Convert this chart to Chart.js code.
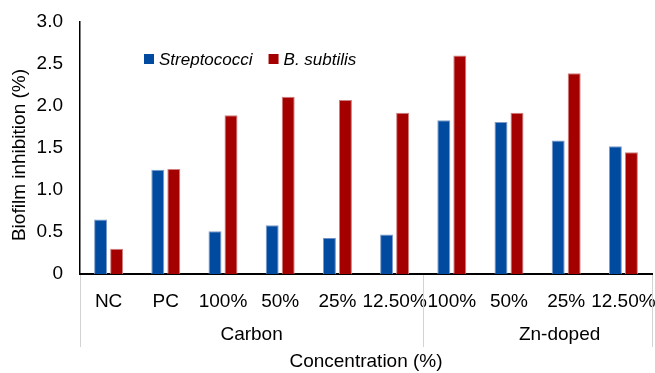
<!DOCTYPE html>
<html>
<head>
<meta charset="utf-8">
<script src="https://cdn.jsdelivr.net/npm/chart.js@4"></script>
<style>
  html, body { margin: 0; padding: 0; background: #fff; }
  #wrap { width: 655px; height: 373px; position: relative; }
</style>
</head>
<body>
<div id="wrap"><canvas id="chart"></canvas></div>
<script>
// Biofilm inhibition by concentration, two strains, grouped by material.

var categories = ["NC", "PC", "100%", "50%", "25%", "12.50%", "100%", "50%", "25%", "12.50%"];
var groupNames = ["Carbon", "Zn-doped"];
var groupSizes = [6, 4]; // how many categories each group spans

var streptococci = [0.65, 1.24, 0.51, 0.58, 0.43, 0.47, 1.83, 1.81, 1.59, 1.52];
var bSubtilis = [0.30, 1.25, 1.89, 2.11, 2.07, 1.92, 2.60, 1.92, 2.39, 1.45];

var yMin = 0;
var yMax = 3;
var yStep = 0.5;

var FONT = "'Liberation Sans', Arial, Helvetica, sans-serif";

// ---------- group labels + separators under the x axis ----------
var groupAxisPlugin = {
  id: "groupAxis",
  afterDraw: function (chart, args, opts) {
    var ctx = chart.ctx;
    var x = chart.scales.x;
    var area = chart.chartArea;
    var n = categories.length;

    function edge(i) {
      if (i <= 0) return x.left;
      if (i >= n) return x.right;
      return (x.getPixelForValue(i - 1) + x.getPixelForValue(i)) / 2;
    }

    ctx.save();
    ctx.strokeStyle = "#d3d3d3";
    ctx.lineWidth = 1;
    var start = 0;
    var edges = [0];
    groupSizes.forEach(function (s) { start += s; edges.push(start); });
    edges.forEach(function (i) {
      var px = Math.round(edge(i)) + 0.5;
      ctx.beginPath();
      ctx.moveTo(px, area.bottom + 1);
      ctx.lineTo(px, area.bottom + opts.lineLength);
      ctx.stroke();
    });

    ctx.fillStyle = "#000";
    ctx.font = opts.fontSize + "px " + FONT;
    ctx.textAlign = "center";
    ctx.textBaseline = "middle";
    for (var g = 0; g < groupNames.length; g++) {
      var cx = (edge(edges[g]) + edge(edges[g + 1])) / 2 + (opts.nudge[g] || 0);
      ctx.fillText(groupNames[g], cx, area.bottom + opts.labelOffset);
    }
    ctx.restore();
  },
};

// ---------- y title, sits a bit below the plot's middle ----------
var yTitlePlugin = {
  id: "yTitle",
  afterDraw: function (chart, args, opts) {
    var ctx = chart.ctx;
    var area = chart.chartArea;
    ctx.save();
    ctx.translate(opts.x, (area.top + area.bottom) / 2 + opts.shift);
    ctx.rotate(-Math.PI / 2);
    ctx.fillStyle = "#000";
    ctx.font = opts.fontSize + "px " + FONT;
    ctx.textAlign = "center";
    ctx.textBaseline = "middle";
    ctx.fillText(opts.text, 0, 0);
    ctx.restore();
  },
};

// ---------- legend drawn inside the plot ----------
var innerLegendPlugin = {
  id: "innerLegend",
  afterDraw: function (chart, args, opts) {
    var ctx = chart.ctx;
    var area = chart.chartArea;
    var cx = area.left + opts.left;
    var cy = area.top + opts.top;
    ctx.save();
    ctx.font = "italic " + opts.fontSize + "px " + FONT;
    ctx.textBaseline = "middle";
    ctx.textAlign = "left";
    chart.data.datasets.forEach(function (ds) {
      ctx.fillStyle = ds.backgroundColor;
      ctx.fillRect(cx, cy - opts.box / 2, opts.box, opts.box);
      cx += opts.box + opts.textGap;
      ctx.fillStyle = "#000";
      ctx.fillText(ds.label, cx, cy + 1);
      cx += ctx.measureText(ds.label).width + opts.itemGap;
    });
    ctx.restore();
  },
};

var chart = new Chart(document.getElementById("chart").getContext("2d"), {
  type: "bar",
  data: {
    labels: categories,
    datasets: [
      {
        label: "Streptococci",
        data: streptococci,
        backgroundColor: "#004A9F",
        borderColor: "#7d9acb",
        borderWidth: 1,
        categoryPercentage: 0.56,
        barPercentage: 0.81,
      },
      {
        label: "B. subtilis",
        data: bSubtilis,
        backgroundColor: "#A50000",
        borderColor: "#cf7f7f",
        borderWidth: 1,
        categoryPercentage: 0.56,
        barPercentage: 0.81,
      },
    ],
  },
  options: {
    responsive: true,
    maintainAspectRatio: false,
    animation: false,
    layout: { padding: { top: 22, right: 3, bottom: 0, left: 0 } },
    plugins: {
      legend: { display: false },
      tooltip: { enabled: false },
      groupAxis: { lineLength: 73, labelOffset: 61, fontSize: 19, nudge: [0, 22] },
      yTitle: { text: "Biofilm inhibition (%)", x: 20, shift: 7, fontSize: 19 },
      innerLegend: { left: 64, top: 37, fontSize: 17, box: 10, textGap: 5, itemGap: 16 },
    },
    scales: {
      x: {
        grid: { display: false, drawTicks: false },
        border: { display: true, color: "#000", width: 2 },
        ticks: {
          autoSkip: false,
          maxRotation: 0,
          minRotation: 0,
          padding: 16,
          color: "#000",
          font: { family: FONT, size: 19 },
        },
        title: {
          display: true,
          text: "Concentration (%)",
          color: "#000",
          font: { family: FONT, size: 19 },
          padding: { top: 0, bottom: 0 },
        },
        afterFit: function (scale) {
          scale.height = 99;
          // labels may spill past the edges a little, like the original
          scale.paddingLeft = 0;
          scale.paddingRight = 0;
        },
      },
      y: {
        min: yMin,
        max: yMax,
        grid: { display: false, drawTicks: false },
        border: { display: true, color: "#000", width: 1.5 },
        ticks: {
          stepSize: yStep,
          padding: 17,
          color: "#000",
          font: { family: FONT, size: 19 },
          callback: function (v) { return v === 0 ? "0" : Number(v).toFixed(1); },
        },
        afterFit: function (scale) {
          scale.width = 80;
          scale.paddingTop = 0;
          scale.paddingBottom = 0;
        },
      },
    },
  },
  plugins: [groupAxisPlugin, yTitlePlugin, innerLegendPlugin],
});
</script>
</body>
</html>
